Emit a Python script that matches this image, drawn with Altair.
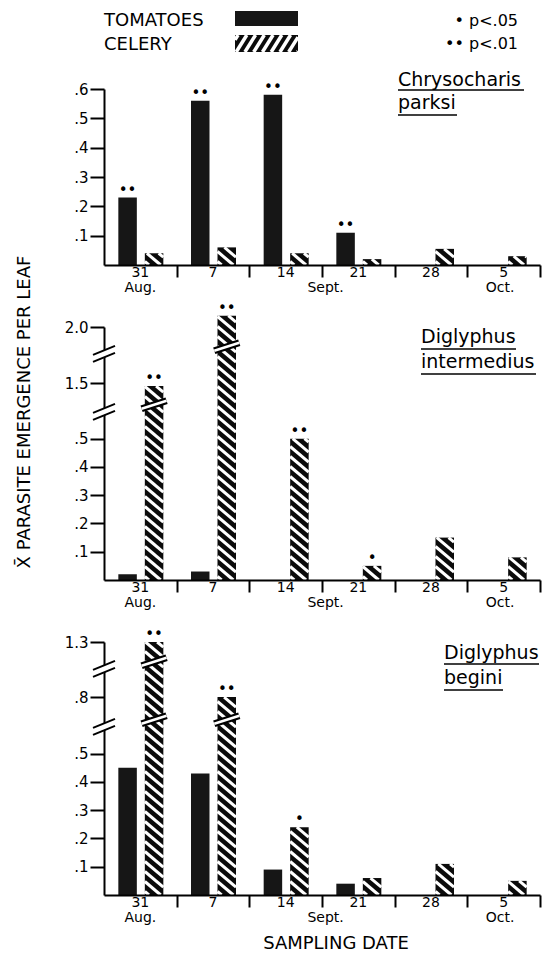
import altair as alt
import pandas as pd

# ---------------- data ----------------
dates = ["31", "7", "14", "21", "28", "5"]
months = ["Aug.", "Sept.", "Oct."]
month_slot = [0.5, 3.05, 5.45]
series_names = ["TOMATOES", "CELERY"]

# Chrysocharis parksi
cp_tomato = [0.23, 0.56, 0.58, 0.11, 0.0, 0.0]
cp_celery = [0.04, 0.06, 0.04, 0.02, 0.055, 0.03]
cp_sig_tomato = ["••", "••", "••", "••", "", ""]
cp_sig_celery = ["", "", "", "", "", ""]

# Diglyphus intermedius
di_tomato = [0.02, 0.03, 0.0, 0.0, 0.0, 0.0]
di_celery = [1.48, 2.08, 0.50, 0.05, 0.15, 0.08]
di_sig_tomato = ["", "", "", "", "", ""]
di_sig_celery = ["••", "••", "••", "•", "", ""]

# Diglyphus begini
db_tomato = [0.45, 0.43, 0.09, 0.04, 0.0, 0.0]
db_celery = [1.30, 0.80, 0.24, 0.06, 0.11, 0.05]
db_sig_tomato = ["", "", "", "", "", ""]
db_sig_celery = ["••", "••", "•", "", "", ""]

# y tick values and labels of each panel
cp_ticks = [0.1, 0.2, 0.3, 0.4, 0.5, 0.6]
cp_tick_labels = [".1", ".2", ".3", ".4", ".5", ".6"]
di_ticks = [0.1, 0.2, 0.3, 0.4, 0.5, 1.5, 2.0]
di_tick_labels = [".1", ".2", ".3", ".4", ".5", "1.5", "2.0"]
db_ticks = [0.1, 0.2, 0.3, 0.4, 0.5, 0.8, 1.3]
db_tick_labels = [".1", ".2", ".3", ".4", ".5", ".8", "1.3"]

# ---------------- layout ----------------
W = 436
PPX = W / 6.0
T_OFF = (-22.0, -3.5)
C_OFF = (4.5, 23.0)
FONT = "DejaVu Sans"
BREAKS = [0.595, 0.80]          # broken-axis positions (display units)
HATCH_PERIOD = 10.0
HATCH_SLOPE = 0.85


def to_pos(v, segs):
    """Display position on a broken axis: lower part linear, upper parts compressed."""
    if v <= 0.6 or not segs:
        return v
    thr = (segs[0][0] + segs[1][0]) / 2.0
    tv, tp = segs[0] if v < thr else segs[1]
    return tp + (v - tv) * 0.5


def hatch_lines(x0, x1, y0, y1, period, slope, rising):
    w = x1 - x0
    out = []
    if not rising:
        c = y0 + period * 0.35
        while c < y1 + slope * w:
            xa = max(x0, x0 + (c - y1) / slope)
            xb = min(x1, x0 + (c - y0) / slope)
            if xb - xa > 0.3:
                out.append((xa, c - slope * (xa - x0), xb, c - slope * (xb - x0)))
            c += period
    else:
        c = y1 - period * 0.35
        while c > y0 - slope * w:
            xa = max(x0, x0 + (y0 - c) / slope)
            xb = min(x1, x0 + (y1 - c) / slope)
            if xb - xa > 0.3:
                out.append((xa, c + slope * (xa - x0), xb, c + slope * (xb - x0)))
            c -= period
    return out


def vtext(text, x, y, size, align="left", baseline="alphabetic", angle=None):
    kw = dict(font=FONT, fontSize=size, align=align, baseline=baseline, color="black")
    if angle is not None:
        kw["angle"] = angle
    return alt.Chart(pd.DataFrame({"t": [text]})).mark_text(**kw).encode(
        x=alt.value(x), y=alt.value(y), text="t:N")


def vrule(x1, x2, y1, y2, color="black", width=1.5):
    return alt.Chart(pd.DataFrame({"k": [0]})).mark_rule(color=color, strokeWidth=width).encode(
        x=alt.value(x1), x2=alt.value(x2), y=alt.value(y1), y2=alt.value(y2))


def make_panel(tomato, celery, sig_t, sig_c, ticks, tick_labels, segs, H, top,
               bar_breaks, extra):
    ppy = H / top
    xs = alt.Scale(domain=[0, 6], nice=False, zero=False)
    ys = alt.Scale(domain=[0, top], nice=False, zero=False)
    tick_pos = [to_pos(v, segs) for v in ticks]
    expr = " : ".join(f"abs(datum.value - {p}) < 0.0005 ? '{l}'" for p, l in zip(tick_pos, tick_labels)) + " : ''"

    xaxis = alt.Axis(values=[1, 2, 3, 4, 5, 6], labels=False, tickSize=12, tickWidth=2,
                     domainWidth=2, domainColor="black", tickColor="black", grid=False,
                     title=None, zindex=1)
    yaxis = alt.Axis(values=tick_pos, labelExpr=expr, tickSize=14, tickWidth=2, domainWidth=2,
                     domainColor="black", tickColor="black", labelColor="black", labelFont=FONT,
                     labelFontSize=15, labelPadding=2, grid=False, title=None, zindex=0)

    def X(f): return alt.X(f, scale=xs, axis=xaxis)
    def Y(f): return alt.Y(f, scale=ys, axis=yaxis)

    rows = []
    for i, d in enumerate(dates):
        c = i + 0.5
        for s, vals, sig, off, fill in [(series_names[0], tomato, sig_t, T_OFF, "#161616"),
                                        (series_names[1], celery, sig_c, C_OFF, "#0b0b0b")]:
            v = vals[i]
            rows.append(dict(date=d, series=s, value=v, x0=c + off[0] / PPX, x1=c + off[1] / PPX,
                             xc=c + (off[0] + off[1]) / 2 / PPX, pos=to_pos(v, segs), base=0.0,
                             fill=fill, sig=sig[i]))
    bars = pd.DataFrame(rows)
    nz = bars[bars.value > 0]

    hrows = []
    for _, r in nz[nz.series == "CELERY"].iterrows():
        for xa, ya, xb, yb in hatch_lines(r.x0 * PPX, r.x1 * PPX, 0.0, r.pos * ppy,
                                          HATCH_PERIOD, HATCH_SLOPE, False):
            hrows.append(dict(xa=xa / PPX, ya=ya / ppy, xb=xb / PPX, yb=yb / ppy))
    hdf = pd.DataFrame(hrows)

    layers = [
        alt.Chart(nz).mark_rect().encode(
            x=X("x0:Q"), x2=alt.X2("x1"), y=Y("pos:Q"), y2=alt.Y2("base"),
            color=alt.Color("fill:N", scale=None)),
        alt.Chart(hdf).mark_rule(color="white", strokeWidth=3, strokeCap="butt").encode(
            x=X("xa:Q"), x2=alt.X2("xb"), y=Y("ya:Q"), y2=alt.Y2("yb")),
    ]

    # break marks on the axis and on the bars
    drows = []
    if segs:
        for b in BREAKS:
            hl, dy, off = 11 / PPX, 4.5 / ppy, 3.5 / ppy
            drows.append(dict(xa=-hl, xb=hl, ya=b - dy, yb=b + dy, col="white", w=6))
            drows.append(dict(xa=-hl, xb=hl, ya=b - dy - off, yb=b + dy - off, col="black", w=2))
            drows.append(dict(xa=-hl, xb=hl, ya=b - dy + off, yb=b + dy + off, col="black", w=2))
        for di, bi in bar_breaks:
            c = di + 0.5 + (C_OFF[0] + C_OFF[1]) / 2 / PPX
            hl, dy = 12.5 / PPX, 4 / ppy
            b = BREAKS[bi] + 0.025
            drows.append(dict(xa=c - hl, xb=c + hl, ya=b - dy, yb=b + dy, col="black", w=7))
            drows.append(dict(xa=c - hl, xb=c + hl, ya=b - dy, yb=b + dy, col="white", w=2.5))
    if drows:
        layers.append(alt.Chart(pd.DataFrame(drows)).mark_rule(strokeCap="butt").encode(
            x=X("xa:Q"), x2=alt.X2("xb"), y=Y("ya:Q"), y2=alt.Y2("yb"),
            color=alt.Color("col:N", scale=None), strokeWidth=alt.StrokeWidth("w:Q", scale=None)))

    # significance dots
    layers.append(alt.Chart(bars[bars.sig != ""]).mark_text(
        font=FONT, fontSize=15, baseline="alphabetic", dy=-3, color="black").encode(
        x=X("xc:Q"), y=Y("pos:Q"), text="sig:N"))

    # date & month labels
    ddf = pd.DataFrame({"date": dates, "slot": [i + 0.5 for i in range(len(dates))]})
    layers.append(alt.Chart(ddf).mark_text(font=FONT, fontSize=14, baseline="alphabetic",
                                           color="black").encode(
        x=X("slot:Q"), y=alt.value(H + 12), text="date:N"))
    mdf = pd.DataFrame({"month": months, "slot": month_slot})
    layers.append(alt.Chart(mdf).mark_text(font=FONT, fontSize=14, baseline="alphabetic",
                                           color="black").encode(
        x=X("slot:Q"), y=alt.value(H + 27), text="month:N"))

    layers += extra(X, Y, ppy, H)
    return alt.layer(*layers).properties(width=W, height=H)


# ---------- panel 1 extras: legend + species name ----------
def extra1(X, Y, ppy, H):
    def pu(px): return px / PPX
    def pv(py): return (H - py) / ppy
    lrect = pd.DataFrame([
        dict(x0=pu(131), x1=pu(194), y0=pv(-78), y1=pv(-63), fill="#161616"),
        dict(x0=pu(131), x1=pu(194), y0=pv(-54), y1=pv(-37), fill="#0b0b0b"),
    ])
    hl = [dict(xa=a / PPX, ya=b / ppy, xb=c / PPX, yb=d / ppy)
          for a, b, c, d in hatch_lines(131, 194, H + 37, H + 54, 14.0, 1.6, True)]
    return [
        alt.Chart(lrect).mark_rect().encode(
            x=X("x0:Q"), x2=alt.X2("x1"), y=Y("y0:Q"), y2=alt.Y2("y1"),
            color=alt.Color("fill:N", scale=None)),
        alt.Chart(pd.DataFrame(hl)).mark_rule(color="white", strokeWidth=3.5, strokeCap="butt").encode(
            x=X("xa:Q"), x2=alt.X2("xb"), y=Y("ya:Q"), y2=alt.Y2("yb")),
        vtext(series_names[0], 0, -63, 18),
        vtext(series_names[1], 0, -39, 18),
        vtext("• p<.05", 414, -63, 16, align="right"),
        vtext("•• p<.01", 414, -40, 16, align="right"),
        vtext("Chrysocharis", 294, -3, 19),
        vtext("parksi", 294, 20, 19),
        vrule(294, 420, 1, 1),
        vrule(294, 353, 26, 26),
        vrule(-95, -94, -80, -80, color="white", width=1),
    ]


def extra2(X, Y, ppy, H):
    return [
        vtext("Diglyphus", 317, 16, 19),
        vtext("intermedius", 317, 41, 19),
        vrule(317, 412, 22, 22),
        vrule(317, 432, 47, 47),
        vtext("X\u0304 PARASITE EMERGENCE PER LEAF", -79, 85, 18, align="center",
              baseline="middle", angle=270),
    ]


def extra3(X, Y, ppy, H):
    return [
        vtext("Diglyphus", 340, 17, 19),
        vtext("begini", 340, 42, 19),
        vrule(340, 435, 22, 22),
        vrule(340, 399, 48, 48),
        vtext("SAMPLING DATE", 232, H + 54, 18, align="center"),
    ]


p1 = make_panel(cp_tomato, cp_celery, cp_sig_tomato, cp_sig_celery, cp_ticks, cp_tick_labels,
                [], 176, 0.6, [], extra1)
p2 = make_panel(di_tomato, di_celery, di_sig_tomato, di_sig_celery, di_ticks, di_tick_labels,
                [(1.5, 0.696), (2.0, 0.895)], 253, 0.895, [(0, 0), (1, 1)], extra2)
p3 = make_panel(db_tomato, db_celery, db_sig_tomato, db_sig_celery, db_ticks, db_tick_labels,
                [(0.8, 0.70), (1.3, 0.895)], 253, 0.895, [(0, 0), (0, 1), (1, 0)], extra3)

chart = alt.vconcat(p1, p2, p3, spacing=62, bounds="flush").properties(
    padding={"left": 0, "top": 0, "right": 4, "bottom": 0}).configure_view(stroke=None)

chart.save("out.html", embed_options={"renderer": "svg", "actions": False})
